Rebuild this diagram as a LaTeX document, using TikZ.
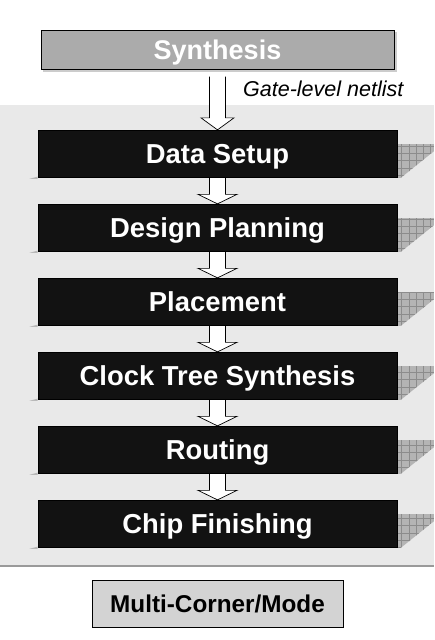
\documentclass[tikz,border=0pt]{standalone}
\usepackage{fontspec}
\setmainfont{Liberation Sans}
\usetikzlibrary{calc}
\definecolor{bgc}{HTML}{E9E9E9}
\definecolor{boxc}{HTML}{121212}
\definecolor{sync}{HTML}{ABABAB}
\definecolor{mcc}{HTML}{D3D3D3}
\definecolor{patchc}{HTML}{B4B4B4}
\definecolor{gridc}{HTML}{8C8C8C}
\definecolor{linec}{HTML}{9A9A9A}
\pgfdeclarelayer{back}
\pgfdeclarelayer{mid}
\pgfsetlayers{back,mid,main}
\newcommand\blkarrow[5]{%
  \draw[blockarrow] ($(#1)+(-8,#5)$) -- ($(#2)+(-8,-#4)$) -- ($(#2)+(-#3,-#4)$) -- (#2)
    -- ($(#2)+(#3,-#4)$) -- ($(#2)+(8,-#4)$) -- ($(#1)+(8,#5)$);}
\begin{document}
\begin{tikzpicture}[x=1pt,y=-1pt,
  stagebox/.style={draw=black, line width=0.8pt, fill=boxc, text=white,
    minimum width=359pt, minimum height=47.5pt, inner sep=0pt,
    font=\fontsize{27.4}{31}\selectfont\bfseries, text height=19.6pt, text depth=0pt},
  synbox/.style={draw=black, line width=1pt, fill=sync, text=white,
    minimum width=353pt, minimum height=39pt, inner sep=0pt,
    font=\fontsize{27}{31}\selectfont\bfseries, text height=19.3pt, text depth=0pt},
  mcbox/.style={draw=black, line width=1pt, fill=mcc, text=black,
    minimum width=251pt, minimum height=47pt, inner sep=0pt,
    font=\fontsize{24.3}{28}\selectfont\bfseries, text height=17.4pt, text depth=0pt},
  blockarrow/.style={draw=black, line width=0.7pt, fill=white, line join=miter},
  gridline/.style={draw=gridc, line width=0.5pt},
]
\useasboundingbox (0,0) rectangle (434,640);

% nodes
\node[synbox] (syn) at (217.5,49.5) {Synthesis};
\node[anchor=west, font=\fontsize{21.5}{24}\selectfont\itshape, inner sep=0pt] (gl) at (243,88.5) {Gate-level netlist};
\node[stagebox] (ds) at (217.5,154) {Data Setup};
\node[stagebox] (dp) at (217.5,228) {Design Planning};
\node[stagebox] (pl) at (217.5,302) {Placement};
\node[stagebox] (cts) at (217.5,376) {Clock Tree Synthesis};
\node[stagebox] (rt) at (217.5,450) {Routing};
\node[stagebox] (cf) at (217.5,524) {Chip Finishing};
\node[mcbox] (mc) at (217.5,603.5) {Multi-Corner/Mode};

\begin{pgfonlayer}{back}
  \fill[bgc] (0,105) rectangle (434,565.5);
  \draw[linec, line width=1.5pt] (0,566) -- (434,566);
\end{pgfonlayer}

\begin{pgfonlayer}{mid}
  % synthesis shadow
  \fill[gray!40] ($(syn.north west)+(2.5,2.5)$) rectangle ($(syn.south east)+(2.5,2.5)$);
  % arrows
  \blkarrow{syn.south}{ds.north}{16.5}{12}{7}
  \blkarrow{ds.south}{dp.north}{19.5}{9.5}{0}
  \blkarrow{dp.south}{pl.north}{19.5}{9.5}{0}
  \blkarrow{pl.south}{cts.north}{19.5}{9.5}{0}
  \blkarrow{cts.south}{rt.north}{19.5}{9.5}{0}
  \blkarrow{rt.south}{cf.north}{19.5}{9.5}{0}
  % 3D patches and shadows
  \foreach \b in {ds,dp,pl,cts,rt,cf}{
    \fill[gray!55] ($(\b.south west)+(0,-1.5)$) -- ($(\b.south west)+(-8,0.6)$) -- ($(\b.south west)+(0,0.6)$) -- cycle;
    \begin{scope}
      \clip ($(\b.north east)+(0,14)$) -- ($(\b.north east)+(37,14)$) -- ($(\b.north east)+(37,21)$)
        -- ($(\b.south east)+(3,0)$) -- (\b.south east) -- cycle;
      \fill[patchc] ($(\b.north east)+(0,14)$) rectangle ($(\b.south east)+(37,0)$);
      \draw[gridline, step=7.3pt] ($(\b.north east)+(0,14)$) grid ($(\b.south east)+(37,0)$);
    \end{scope}
  }
\end{pgfonlayer}
\end{tikzpicture}
\end{document}
